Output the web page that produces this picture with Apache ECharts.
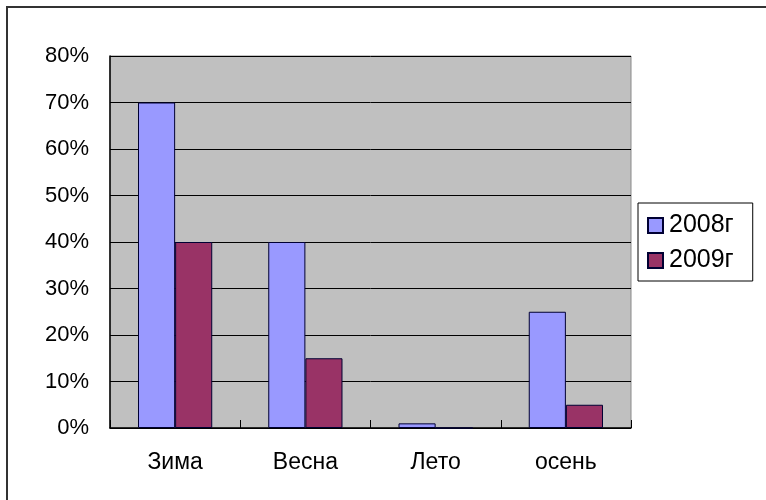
<!DOCTYPE html>
<html>
<head>
<meta charset="utf-8">
<script src="https://cdn.jsdelivr.net/npm/echarts@6/dist/echarts.min.js"></script>
<style>
  html, body { margin: 0; padding: 0; background: #fff; }
  #chart { width: 766px; height: 500px; }
</style>
</head>
<body>
<div id="chart"></div>
<script>
// Seasons and the share for each year (fractions of 1)
const seasons = ['Зима', 'Весна', 'Лето', 'осень'];
const values2008 = [0.70, 0.40, 0.01, 0.25];
const values2009 = [0.40, 0.15, 0, 0.05];
const seriesNames = ['2008г', '2009г'];

const font = '"Liberation Sans", Arial, sans-serif';

const chart = echarts.init(document.getElementById('chart'), null, { renderer: 'canvas' });

chart.setOption({
  backgroundColor: '#ffffff',
  animation: false,
  graphic: [{
    type: 'rect',
    shape: { x: 7, y: 7, width: 820, height: 600 },
    style: { fill: 'none', stroke: '#333333', lineWidth: 2 },
    silent: true
  }],
  grid: {
    left: 110, top: 56, width: 521, height: 372,
    show: true,
    backgroundColor: '#c0c0c0',
    borderColor: '#8a8a8a',
    borderWidth: 1
  },
  legend: {
    orient: 'vertical',
    left: 638, top: 203,
    padding: [10, 19, 8, 9],
    icon: 'rect',
    itemWidth: 15, itemHeight: 15,
    itemGap: 10,
    borderColor: '#000000',
    borderWidth: 1,
    backgroundColor: '#ffffff',
    textStyle: { fontFamily: font, fontSize: 25, color: '#000', padding: [0, 0, 0, 1] },
    data: seriesNames
  },
  xAxis: {
    type: 'category',
    data: seasons,
    axisLine: { lineStyle: { color: '#000', width: 1.5 } },
    axisTick: { show: true, inside: true, length: 8, alignWithLabel: false, lineStyle: { color: '#000' } },
    axisLabel: { fontFamily: font, fontSize: 23, color: '#000', margin: 23 },
    splitLine: { show: false }
  },
  yAxis: {
    type: 'value',
    min: 0, max: 0.8, interval: 0.1,
    axisLine: { show: true, lineStyle: { color: '#000', width: 1.5 } },
    axisTick: { show: false },
    axisLabel: {
      fontFamily: font, fontSize: 22, color: '#000', margin: 21,
      formatter: v => Math.round(v * 100) + '%'
    },
    splitLine: { show: true, lineStyle: { color: '#000', width: 1 } }
  },
  series: [
    {
      name: seriesNames[0],
      type: 'bar',
      data: values2008,
      barGap: '0%',
      barCategoryGap: '43%',
      itemStyle: { color: '#9999ff', borderColor: '#000033', borderWidth: 1 }
    },
    {
      name: seriesNames[1],
      type: 'bar',
      data: values2009,
      barGap: '0%',
      barCategoryGap: '43%',
      itemStyle: { color: '#993366', borderColor: '#000033', borderWidth: 1 }
    }
  ]
});
</script>
</body>
</html>
